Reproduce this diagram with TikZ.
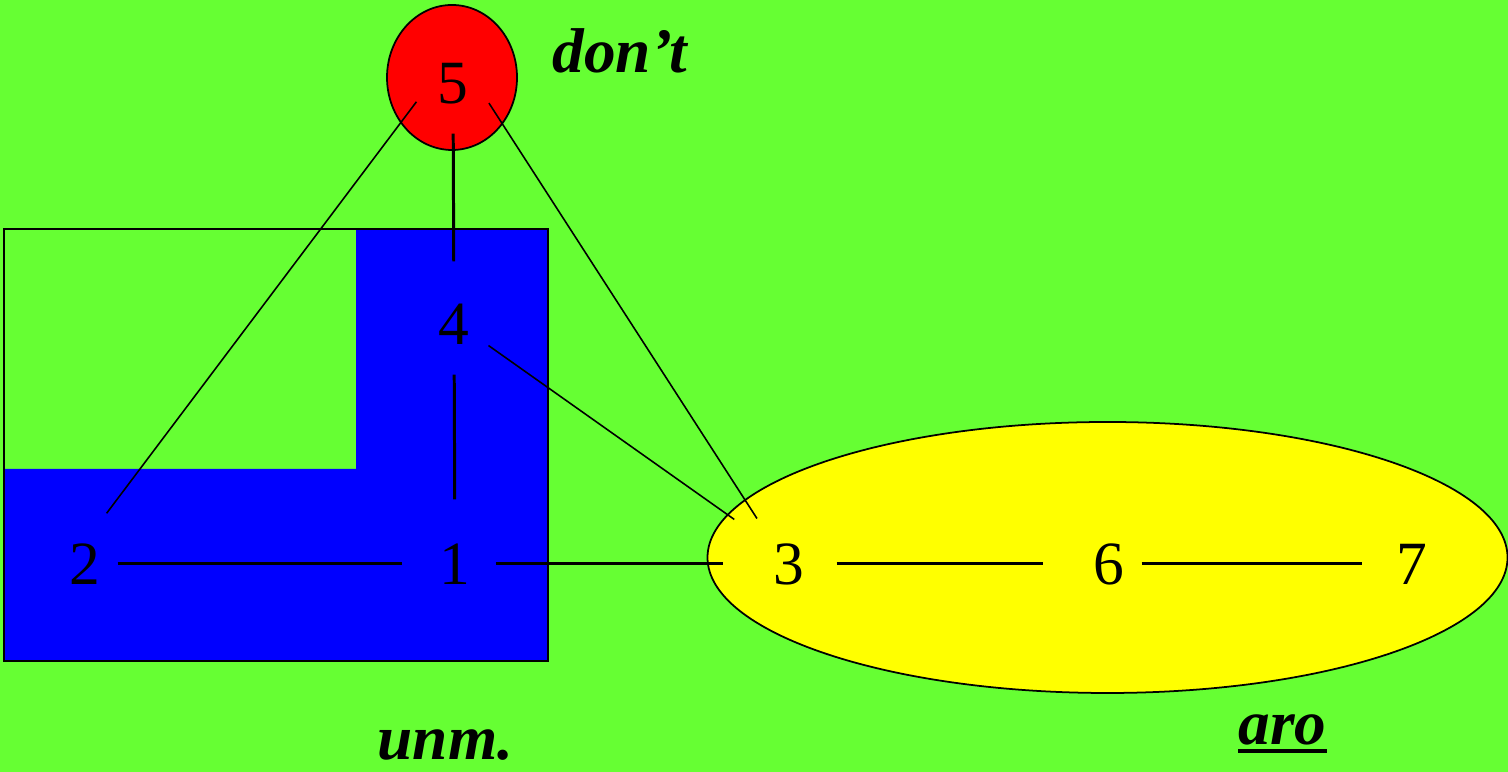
\documentclass[tikz,border=0pt]{standalone}
\usepackage{fontspec}
\setmainfont{Liberation Serif}
\usepackage{tikz}
\definecolor{mygreen}{RGB}{102,255,51}
\definecolor{myblue}{RGB}{0,0,255}
\definecolor{myred}{RGB}{255,0,0}
\definecolor{myyellow}{RGB}{255,255,0}
\tikzset{
  vertex/.style={circle, minimum size=0.8cm, inner sep=0pt,
    font=\fontsize{17.5}{21}\selectfont},
  tag/.style={inner sep=0pt, anchor=base west,
    font=\fontsize{18}{21}\selectfont\bfseries\itshape},
  edge/.style={line width=0.85pt, shorten >=0.15cm},
  diag/.style={line width=0.45pt, shorten >=0.15cm},
  region/.style={draw=black, line width=0.5pt}
}

\begin{document}
\begin{tikzpicture}
  % Background
  \fill[mygreen] (0,0) rectangle (15.08,7.72);
  \useasboundingbox (0,0) rectangle (15.08,7.72);

  % Regions
  \fill[myblue] (0.04,1.11) -- (5.48,1.11) -- (5.48,5.43) -- (3.56,5.43)
    -- (3.56,3.03) -- (0.04,3.03) -- cycle;
  \draw[region] (0.04,1.11) rectangle (5.48,5.43);
  \draw[region, fill=myred] (4.52,6.945) ellipse (0.65 and 0.725);
  \draw[region, fill=myyellow] (11.075,2.145) ellipse (4.0 and 1.355);

  % Nodes
  \node[vertex] (n5) at (4.53,6.88) {5};
  \node[vertex] (n4) at (4.54,4.48) {4};
  \node[vertex] (n2) at (0.85,2.08) {2};
  \node[vertex] (n1) at (4.55,2.08) {1};
  \node[vertex] (n3) at (7.89,2.08) {3};
  \node[vertex] (n6) at (11.09,2.08) {6};
  \node[vertex] (n7) at (14.12,2.08) {7};

  % Straight edges
  \draw[edge, shorten <=0.09cm, shorten >=0.22cm] (n5) -- (n4);
  \draw[edge, shorten <=0.1cm, shorten >=0.24cm] (n4) -- (n1);
  \draw[edge, shorten <=-0.08cm, shorten >=0.12cm] (n2) -- (n1);
  \draw[edge, shorten >=0.25cm] (n1) -- (n3);
  \draw[edge, shorten <=0.07cm, shorten >=0.25cm] (n3) -- (n6);
  \draw[edge, shorten <=-0.08cm, shorten >=0.09cm] (n6) -- (n7);

  % Slanted edges
  \draw[diag] (n5.206) -- (n2.72);
  \draw[diag] (n5.-28) -- (n3.126);
  \draw[diag, shorten >=0.3cm] (n4.-32) -- (n3.138);

  % Labels
  \node[tag] (dont) at (5.52,6.99) {don't};
  \node[tag] (unm) at (3.77,0.12) {unm.};
  \node[tag] (aro) at (12.38,0.27) {aro};
  \draw[line width=0.9pt] ([yshift=-0.06cm]aro.base west) -- ([yshift=-0.06cm]aro.base east);
\end{tikzpicture}
\end{document}
